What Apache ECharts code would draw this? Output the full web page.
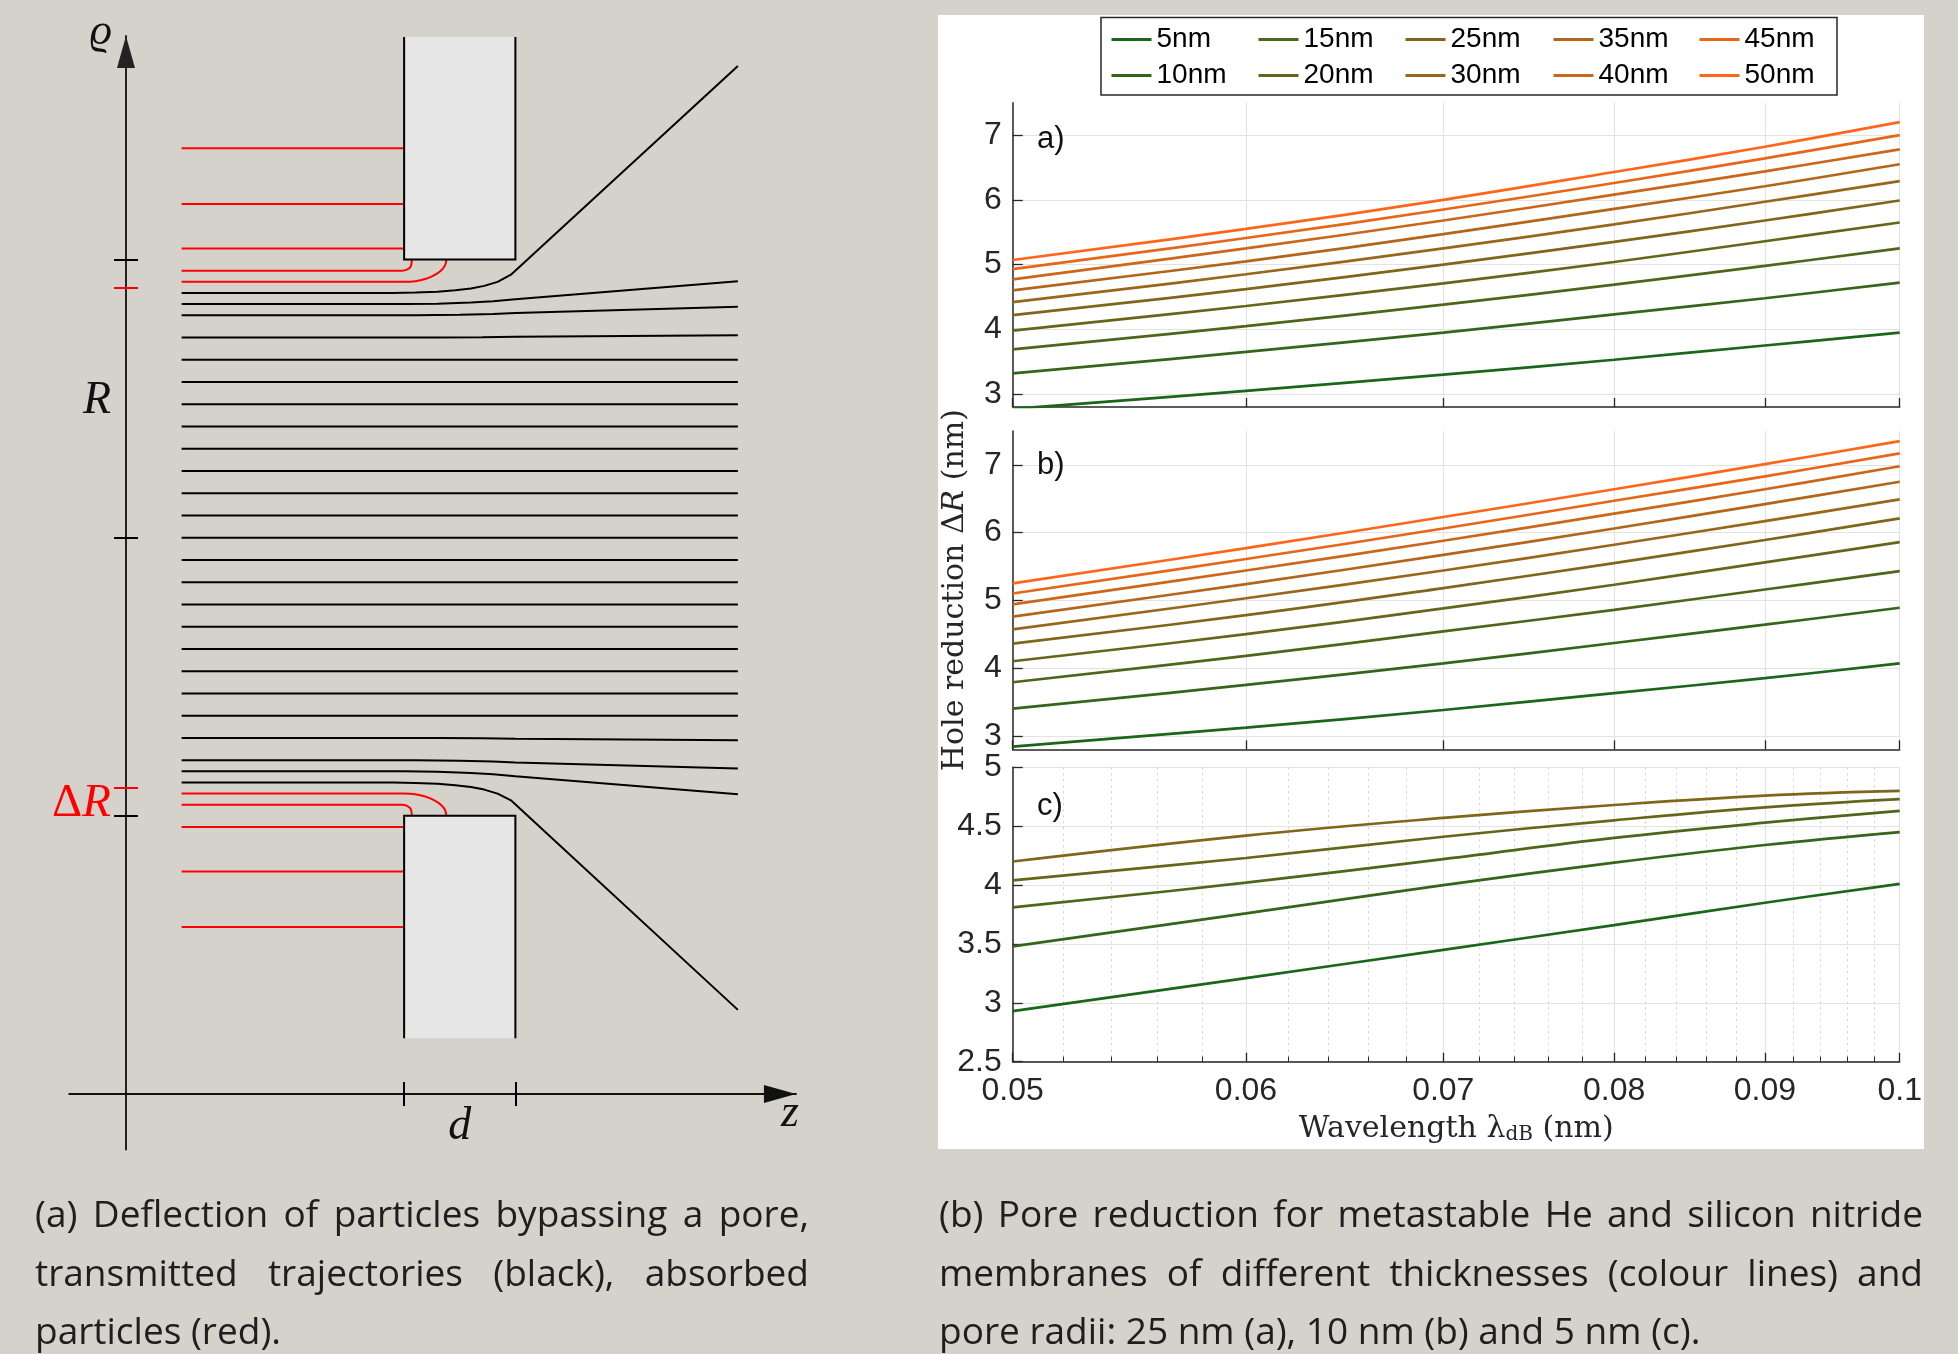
<!DOCTYPE html>
<html>
<head>
<meta charset="utf-8">
<script src="https://cdn.jsdelivr.net/npm/echarts@6/dist/echarts.min.js"></script>
<style>
html, body { margin: 0; padding: 0; background: #d5d1cb; }
#main { width: 1958px; height: 1354px; }
</style>
</head>
<body>
<div id="main"></div>
<script>
// ---- right panel: pore reduction curves ----
var wavelength = [0.05, 0.06, 0.07, 0.08, 0.09, 0.1];
var majorTicks = [0.05, 0.06, 0.07, 0.08, 0.09, 0.1];
var minorTicks = [0.052, 0.054, 0.056, 0.058, 0.062, 0.064, 0.066, 0.068, 0.072, 0.074, 0.076, 0.078,
	0.082, 0.084, 0.086, 0.088, 0.092, 0.094, 0.096, 0.098];
var ticksAB = [3, 4, 5, 6, 7];
var ticksC = [2.5, 3, 3.5, 4, 4.5, 5];
var thickness = ['5nm', '10nm', '15nm', '20nm', '25nm', '30nm', '35nm', '40nm', '45nm', '50nm'];
var lineColors = ['#1a661a', '#33661a', '#4d661a', '#66661a', '#80661a', '#99661a', '#b3661a', '#cc661a', '#e6661a', '#ff661a'];

// a) pore radius 25 nm, one row per membrane thickness
var reductionA = [
	[2.77, 3.05, 3.30, 3.53, 3.75, 3.95],
	[3.32, 3.65, 3.95, 4.23, 4.48, 4.72],
	[3.69, 4.05, 4.38, 4.69, 4.98, 5.25],
	[3.98, 4.36, 4.71, 5.04, 5.36, 5.65],
	[4.22, 4.62, 5.00, 5.35, 5.68, 5.99],
	[4.42, 4.85, 5.25, 5.62, 5.97, 6.29],
	[4.60, 5.05, 5.47, 5.86, 6.21, 6.55],
	[4.77, 5.25, 5.68, 6.08, 6.44, 6.78],
	[4.93, 5.41, 5.85, 6.26, 6.64, 7.00],
	[5.07, 5.55, 6.00, 6.43, 6.82, 7.20]
];
// b) pore radius 10 nm
var reductionB = [
	[2.84, 3.12, 3.38, 3.63, 3.85, 4.07],
	[3.40, 3.75, 4.07, 4.37, 4.64, 4.89],
	[3.79, 4.18, 4.54, 4.86, 5.16, 5.43],
	[4.10, 4.50, 4.88, 5.23, 5.56, 5.86],
	[4.36, 4.78, 5.18, 5.55, 5.89, 6.21],
	[4.57, 5.03, 5.44, 5.82, 6.17, 6.49],
	[4.76, 5.24, 5.67, 6.06, 6.42, 6.75],
	[4.94, 5.44, 5.88, 6.28, 6.64, 6.98],
	[5.10, 5.61, 6.06, 6.47, 6.83, 7.17],
	[5.25, 5.77, 6.23, 6.64, 7.01, 7.35]
];
// c) pore radius 5 nm (only the five thinnest membranes)
var reductionC = [
	[2.93, 3.21, 3.45, 3.66, 3.85, 4.01],
	[3.48, 3.76, 4.00, 4.19, 4.34, 4.45],
	[3.81, 4.02, 4.22, 4.40, 4.53, 4.63],
	[4.04, 4.23, 4.41, 4.55, 4.66, 4.73],
	[4.20, 4.42, 4.57, 4.68, 4.76, 4.80]
];
var legendColumns = [['5nm', '10nm'], ['15nm', '20nm'], ['25nm', '30nm'], ['35nm', '40nm'], ['45nm', '50nm']];

// ---- left panel: trajectories, (z, rho) with rho measured from the pore axis ----
var poreCentre = 25;
var rhoTicks = [12.5, 25, 37.5];
var deltaRTicks = [13.75, 36.25];
var zTicks = [12.5, 17.5];
var walls = [[12.5, 17.5, 12.5, 22.5], [12.5, 17.5, -12.5, -22.5]];
var straightRho = [-8, -7, -6, -5, -4, -3, -2, -1, 0, 1, 2, 3, 4, 5, 6, 7, 8];
var lineZ = [2.5, 27.5];
var deflected = [
	[[2.5, 11], [12, 11], [13, 11.02], [14, 11.06], [14.8, 11.12], [15.5, 11.2], [16.1, 11.32], [16.7, 11.5], [17.3, 11.82], [27.5, 21.2]],
	[[2.5, 10.5], [12.5, 10.5], [14, 10.52], [15.5, 10.57], [16.5, 10.63], [17.5, 10.72], [27.5, 11.53]],
	[[2.5, 10], [13, 10], [15, 10.02], [16.5, 10.06], [17.5, 10.1], [27.5, 10.38]],
	[[2.5, 9], [14, 9], [16, 9.01], [17.5, 9.03], [27.5, 9.1]],
	[[2.5, -9], [14, -9], [16, -9.01], [17.5, -9.03], [27.5, -9.1]],
	[[2.5, -10], [13, -10], [15, -10.02], [16.5, -10.06], [17.5, -10.1], [27.5, -10.37]],
	[[2.5, -10.5], [12.5, -10.5], [14, -10.52], [15.5, -10.57], [16.5, -10.63], [17.5, -10.72], [27.5, -11.53]],
	[[2.5, -11], [12, -11], [13, -11.02], [14, -11.06], [14.8, -11.12], [15.5, -11.2], [16.1, -11.32], [16.7, -11.5], [17.3, -11.8], [27.5, -21.22]]
];
var absorbed = [
	[[2.5, 17.5], [12.5, 17.5]],
	[[2.5, 15], [12.5, 15]],
	[[2.5, 13], [12.5, 13]],
	[[2.5, 12], [12.4, 12], [12.65, 12.06], [12.8, 12.2], [12.85, 12.5]],
	[[2.5, 11.5], [12.5, 11.5], [13.0, 11.53], [13.45, 11.63], [13.84, 11.79], [14.15, 12.0], [14.34, 12.24], [14.4, 12.5]],
	[[2.5, -11.5], [12.5, -11.5], [13.0, -11.53], [13.45, -11.63], [13.84, -11.79], [14.15, -12.0], [14.34, -12.24], [14.4, -12.5]],
	[[2.5, -12], [12.4, -12], [12.65, -12.06], [12.8, -12.2], [12.85, -12.5]],
	[[2.5, -13], [12.5, -13]],
	[[2.5, -15], [12.5, -15]],
	[[2.5, -17.5], [12.5, -17.5]]
];
// axis annotations of the sketch, anchored in plot coordinates (z, height above the z axis)
var sketchLabelText = ['{rho|ϱ}', 'R', '{dd|Δ}{dr|R}', 'd', 'z'];
var sketchLabelAt = [[0, 47.73], [0, 31.15], [0, 13.03], [15, -1.48], [29.84, -0.9]];
var sketchLabelAlign = ['right', 'right', 'right', 'center', 'center'];
var sketchLabelShift = [-14, -15, -15, 0, 0];

var captionA = ['(a) Deflection of particles bypassing a pore,', 'transmitted trajectories (black), absorbed', 'particles (red).'];
var captionB = ['(b) Pore reduction for metastable He and silicon nitride', 'membranes of different thicknesses (colour lines) and', 'pore radii: 25 nm (a), 10 nm (b) and 5 nm (c).'];

var sansFont = 'Liberation Sans';
var serifFont = 'Liberation Serif';
var titleFont = 'DejaVu Serif';
var captionFont = 'Open Sans';
var captionSize = 37;
var axisGray = '#262626';

var myChart = echarts.init(document.getElementById('main'));

function toPlot(points) {
	return points.map(function (p) {
		return [p[0], p[1] + poreCentre];
	});
}

function trajectory(points, color, smooth) {
	return {
		type : 'line',
		xAxisIndex : 0,
		yAxisIndex : 0,
		data : toPlot(points),
		symbol : 'none',
		smooth : smooth,
		silent : true,
		color : color,
		lineStyle : { width : 2, color : color },
		z : 2
	};
}

function renderWall(params, api) {
	var z0 = api.value(0), z1 = api.value(1);
	var edge = api.value(2) + poreCentre, far = api.value(3) + poreCentre;
	var e0 = api.coord([z0, edge]), e1 = api.coord([z1, edge]);
	var f0 = api.coord([z0, far]), f1 = api.coord([z1, far]);
	return {
		type : 'group',
		children : [ {
			type : 'polygon',
			shape : { points : [e0, e1, f1, f0] },
			style : { fill : '#e6e6e6' }
		}, {
			type : 'polyline',
			shape : { points : [f0, e0, e1, f1] },
			style : { stroke : '#000', lineWidth : 2, fill : null }
		} ]
	};
}

function curveSeries(rows, xIdx, yIdx) {
	return rows.map(function (row, i) {
		return {
			name : thickness[i],
			type : 'line',
			xAxisIndex : xIdx,
			yAxisIndex : yIdx,
			data : wavelength.map(function (w, k) { return [w, row[k]]; }),
			symbol : 'none',
			smooth : 0.4,
			color : lineColors[i],
			lineStyle : { width : 2.7 },
			z : 3
		};
	});
}

// sketch axes (two axes share each line so that the ticks cross it)
function diagramX(inside, main) {
	return {
		gridIndex : 0, type : 'value', min : -2.55, max : 30.11, position : 'bottom',
		axisLine : {
			show : main, onZero : true, onZeroAxisIndex : 0,
			symbol : ['none', 'triangle'], symbolSize : [18, 32], symbolOffset : [0, -16],
			lineStyle : { color : '#111', width : 2 }
		},
		axisTick : { show : true, inside : inside, length : 12, customValues : zTicks, lineStyle : { color : '#000', width : 2 } },
		axisLabel : { show : false },
		splitLine : { show : false }
	};
}

function diagramY(inside, main, ticks, color) {
	return {
		gridIndex : 0, type : 'value', min : -2.5, max : 47.55, position : 'left',
		axisLine : {
			show : main, onZero : true, onZeroAxisIndex : 0,
			symbol : ['none', 'triangle'], symbolSize : [18, 32], symbolOffset : [0, -16],
			lineStyle : { color : '#222', width : 2 }
		},
		axisTick : { show : true, inside : inside, length : 12, customValues : ticks, lineStyle : { color : color, width : 2 } },
		axisLabel : { show : false },
		splitLine : { show : false }
	};
}

function xAxisRight(gridIndex, showLabels) {
	var axis = {
		gridIndex : gridIndex, type : 'log', logBase : 10, min : 0.05, max : 0.1, position : 'bottom',
		axisLine : { onZero : false, lineStyle : { color : axisGray, width : 1.5 } },
		axisTick : { inside : true, length : 9, customValues : majorTicks, lineStyle : { color : axisGray, width : 1.3 } },
		axisLabel : {
			show : showLabels, customValues : majorTicks, margin : 13,
			fontFamily : sansFont, fontSize : 32, color : axisGray,
			formatter : function (v) { return String(+v.toFixed(2)); }
		},
		splitLine : { show : true, lineStyle : { color : '#e3e3e3', width : 1.2 } }
	};
	if (showLabels) {
		axis.name = 'Wavelength λ{s|dB} (nm)';
		axis.nameLocation = 'middle';
		axis.nameGap = 53;
		axis.nameTextStyle = {
			fontFamily : titleFont, fontSize : 30, lineHeight : 30, color : axisGray,
			rich : { s : { fontFamily : titleFont, fontSize : 20, lineHeight : 17, verticalAlign : 'bottom', color : axisGray } }
		};
	}
	return axis;
}

function yAxisRight(gridIndex, min, max, ticks) {
	return {
		gridIndex : gridIndex, type : 'value', min : min, max : max, position : 'left',
		axisLine : { show : true, onZero : false, lineStyle : { color : axisGray, width : 1.5 } },
		axisTick : { show : true, inside : true, length : 10, customValues : ticks, lineStyle : { color : axisGray, width : 1.3 } },
		axisLabel : { customValues : ticks, margin : 11, fontFamily : sansFont, fontSize : 32, color : axisGray },
		splitLine : { show : true, lineStyle : { color : '#e3e3e3', width : 1.2 } }
	};
}

var minorAxis = {
	gridIndex : 3, type : 'log', logBase : 10, min : 0.05, max : 0.1, position : 'bottom',
	axisLine : { show : false, onZero : false },
	axisTick : { inside : true, length : 5, customValues : minorTicks, lineStyle : { color : axisGray, width : 1 } },
	axisLabel : { show : false },
	splitLine : { show : true, lineStyle : { color : '#cfcfcf', width : 1, type : [2, 4] } }
};

var yTitleAxis = yAxisRight(2, 2.8, 7.5, ticksAB);
yTitleAxis.name = 'Hole reduction Δ{i|R} (nm)';
yTitleAxis.nameLocation = 'middle';
yTitleAxis.nameGap = 42;
yTitleAxis.nameTextStyle = {
	fontFamily : titleFont, fontSize : 30, color : axisGray,
	rich : { i : { fontFamily : titleFont, fontStyle : 'italic', fontSize : 30, color : axisGray } }
};

// caption lines, justified with measured word widths
var measureCtx = document.createElement('canvas').getContext('2d');
function captionLine(text, x0, x1, y, justify) {
	var style = { fontFamily : captionFont, fontSize : captionSize, fill : '#1e1e1e', verticalAlign : 'middle', align : 'left' };
	if (!justify) {
		return [ { type : 'text', x : x0, y : y, silent : true, style : echarts.util.extend({ text : text }, style) } ];
	}
	measureCtx.font = captionSize + 'px "' + captionFont + '"';
	var words = text.split(' ');
	var widths = words.map(function (w) { return measureCtx.measureText(w).width; });
	var total = widths.reduce(function (a, b) { return a + b; }, 0);
	var gap = Math.max(6, (x1 - x0 - total) / (words.length - 1));
	var x = x0;
	return words.map(function (w, i) {
		var el = { type : 'text', x : x, y : y, silent : true, style : echarts.util.extend({ text : w }, style) };
		x += widths[i] + gap;
		return el;
	});
}

var captionY = [1216, 1275, 1333];
var graphics = [
	{ type : 'rect', shape : { x : 938, y : 15, width : 986, height : 1134 }, style : { fill : '#ffffff' }, z : -10, silent : true },
	{ type : 'rect', shape : { x : 1101, y : 17.5, width : 736, height : 77.5 }, style : { fill : null, stroke : axisGray, lineWidth : 1.5 }, z : 10, silent : true },
	{ type : 'text', x : 1037, y : 139, style : { text : 'a)', fontFamily : sansFont, fontSize : 31, fill : '#111', verticalAlign : 'middle' }, z : 10 },
	{ type : 'text', x : 1037, y : 465, style : { text : 'b)', fontFamily : sansFont, fontSize : 31, fill : '#111', verticalAlign : 'middle' }, z : 10 },
	{ type : 'text', x : 1037, y : 806, style : { text : 'c)', fontFamily : sansFont, fontSize : 31, fill : '#111', verticalAlign : 'middle' }, z : 10 }
];
captionA.forEach(function (line, i) {
	graphics = graphics.concat(captionLine(line, 35, 809, captionY[i], i < 2));
});
captionB.forEach(function (line, i) {
	graphics = graphics.concat(captionLine(line, 939, 1923, captionY[i], i < 2));
});

var legendLeft = [1110, 1257, 1404, 1552, 1698];

var series = [];
straightRho.forEach(function (r) {
	series.push(trajectory([[lineZ[0], r], [lineZ[1], r]], '#000', false));
});
deflected.forEach(function (pts) { series.push(trajectory(pts, '#000', false)); });
absorbed.forEach(function (pts) { series.push(trajectory(pts, '#ff0000', 0.3)); });
series.push({
	type : 'custom',
	xAxisIndex : 0,
	yAxisIndex : 0,
	renderItem : renderWall,
	data : walls,
	silent : true,
	z : 3
});
series = series.concat(curveSeries(reductionA, 2, 4));
series = series.concat(curveSeries(reductionB, 3, 5));
series = series.concat(curveSeries(reductionC, 4, 6));

var option = {
	backgroundColor : '#d5d1cb',
	animation : false,
	grid : [
		{ left : 69.26, top : 36, width : 726.7, height : 1113.6, outerBoundsMode : 'none' },
		{ left : 1012.7, top : 102.7, width : 887, height : 304.3, outerBoundsMode : 'none' },
		{ left : 1012.7, top : 431, width : 887, height : 318.3, outerBoundsMode : 'none' },
		{ left : 1012.7, top : 767.3, width : 887, height : 294.4, outerBoundsMode : 'none' }
	],
	xAxis : [
		diagramX(false, true),
		diagramX(true, false),
		xAxisRight(1, false),
		xAxisRight(2, false),
		xAxisRight(3, true),
		minorAxis
	],
	yAxis : [
		diagramY(false, true, rhoTicks, '#000'),
		diagramY(true, false, rhoTicks, '#000'),
		diagramY(false, false, deltaRTicks, '#ff0000'),
		diagramY(true, false, deltaRTicks, '#ff0000'),
		yAxisRight(1, 2.8, 7.5, ticksAB),
		yTitleAxis,
		yAxisRight(3, 2.5, 5, ticksC)
	],
	legend : legendColumns.map(function (names, i) {
		return {
			data : names,
			orient : 'vertical',
			left : legendLeft[i],
			top : 25.5,
			padding : 0,
			itemWidth : 40,
			itemHeight : 20,
			itemGap : 8,
			selectedMode : false,
			itemStyle : { opacity : 0 },
			lineStyle : { width : 3 },
			textStyle : { fontFamily : sansFont, fontSize : 28, lineHeight : 26, color : '#000' }
		};
	}),
	graphic : { elements : graphics },
	series : series
};

myChart.setOption(option);

// place the sketch annotations through the sketch's own axes
var sketchRich = {
	rho : { fontFamily : serifFont, fontStyle : 'italic', fontSize : 44, fill : '#111' },
	dd : { fontFamily : serifFont, fontSize : 47, fill : '#ff0000' },
	dr : { fontFamily : serifFont, fontStyle : 'italic', fontSize : 47, fill : '#ff0000' }
};
var sketchLabels = sketchLabelText.map(function (text, i) {
	var p = myChart.convertToPixel({ gridIndex : 0 }, sketchLabelAt[i]);
	return {
		type : 'text',
		x : p[0] + sketchLabelShift[i],
		y : p[1],
		silent : true,
		z : 10,
		style : {
			text : text, rich : sketchRich, align : sketchLabelAlign[i], verticalAlign : 'middle',
			fontFamily : serifFont, fontStyle : 'italic', fontSize : 46, fill : '#111'
		}
	};
});
myChart.setOption({ graphic : { elements : graphics.concat(sketchLabels) } });
</script>
</body>
</html>
